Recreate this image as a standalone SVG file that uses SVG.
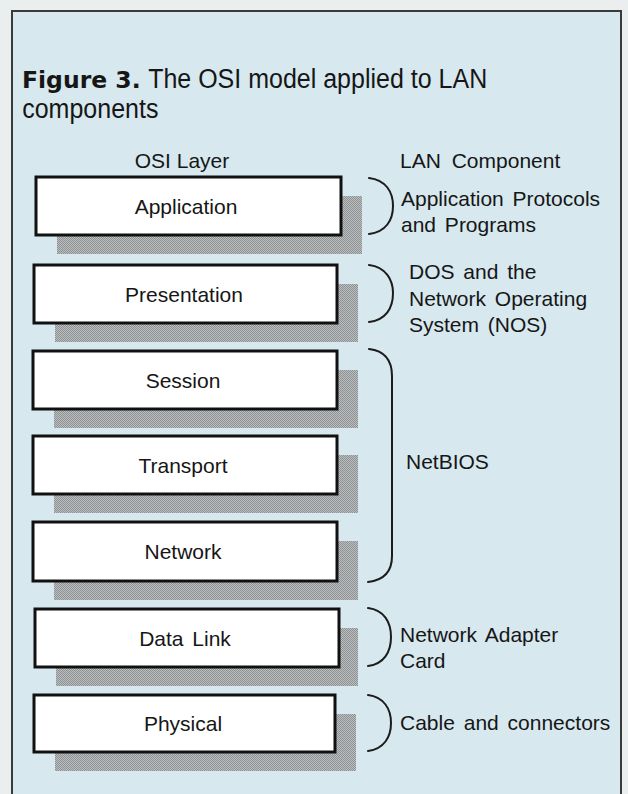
<svg xmlns="http://www.w3.org/2000/svg" width="628" height="794" viewBox="0 0 628 794">
<style>
.t{font-family:"Liberation Sans",Arial,sans-serif;fill:#161616}
.lbl{font-size:21px;text-anchor:middle}
.rt{font-size:21px;word-spacing:3px}
.hd{font-size:21px}
.ttl{font-size:27px}
.box{fill:#ffffff;stroke:#111;stroke-width:3}
.sh{fill:url(#dots)}
.br{fill:none;stroke:#1c1c1c;stroke-width:2;stroke-linecap:round}
</style>
<defs>
<pattern id="dots" width="2" height="2" patternUnits="userSpaceOnUse">
<rect width="2" height="2" fill="#bcbfc0"/>
<rect width="1" height="1" fill="#8d9193"/>
<rect x="1" y="1" width="1" height="1" fill="#8d9193"/>
</pattern>
</defs>
<rect width="628" height="794" fill="#eaeeef"/>
<rect x="12" y="11" width="609" height="800" fill="#d7e8ef" stroke="#3a3a3a" stroke-width="2"/>

<g id="title">
<text x="22" y="88" style="font-family:'DejaVu Sans',sans-serif;font-weight:bold;font-size:23.5px;fill:#161616">Figure 3.</text>
<g transform="scale(0.926,1)">
<text class="t ttl" x="160" y="88">The OSI model applied to LAN</text>
<text class="t ttl" x="24" y="118">components</text>
</g>
</g>
<g id="headers">
<text class="t hd" x="182" y="168" text-anchor="middle">OSI Layer</text>
<text class="t hd" x="400" y="168" style="word-spacing:5px">LAN Component</text>
</g>

<g id="application">
<rect class="sh" x="57" y="196" width="305" height="58"/>
<rect class="box" x="36" y="177" width="305" height="58"/>
<text class="t lbl" x="186" y="214">Application</text>
</g>
<g id="presentation">
<rect class="sh" x="55" y="284" width="303" height="58"/>
<rect class="box" x="34" y="265" width="303" height="58"/>
<text class="t lbl" x="184" y="302">Presentation</text>
</g>
<g id="session">
<rect class="sh" x="54" y="370" width="304" height="58"/>
<rect class="box" x="33" y="351" width="304" height="58"/>
<text class="t lbl" x="183" y="388">Session</text>
</g>
<g id="transport">
<rect class="sh" x="54" y="455" width="304" height="58"/>
<rect class="box" x="33" y="436" width="304" height="58"/>
<text class="t lbl" x="183" y="473">Transport</text>
</g>
<g id="network">
<rect class="sh" x="54" y="541" width="304" height="59"/>
<rect class="box" x="33" y="522" width="304" height="59"/>
<text class="t lbl" x="183" y="559">Network</text>
</g>
<g id="datalink">
<rect class="sh" x="56" y="628" width="302" height="58"/>
<rect class="box" x="35" y="609" width="304" height="58"/>
<text class="t lbl" x="185" y="646" style="word-spacing:3px">Data Link</text>
</g>
<g id="physical">
<rect class="sh" x="55" y="714" width="301" height="57"/>
<rect class="box" x="34" y="695" width="301" height="57"/>
<text class="t lbl" x="183" y="731">Physical</text>
</g>

<g id="comp-app">
<text class="t rt" x="401" y="206">Application Protocols</text>
<text class="t rt" x="401" y="232">and Programs</text>
</g>
<g id="comp-nos">
<text class="t rt" x="409" y="279">DOS and the</text>
<text class="t rt" x="409" y="306">Network Operating</text>
<text class="t rt" x="409" y="332">System (NOS)</text>
</g>
<g id="comp-netbios">
<text class="t rt" x="406" y="469">NetBIOS</text>
</g>
<g id="comp-nic">
<text class="t rt" x="400" y="642">Network Adapter</text>
<text class="t rt" x="400" y="668">Card</text>
</g>
<g id="comp-cable">
<text class="t rt" x="400" y="730">Cable and connectors</text>
</g>

<g id="connectors">
<path class="br" d="M369,178 C386,180 393,192 393,206 C393,220 386,232 369,234"/>
<path class="br" d="M369,265 C386,267 393,280 393,293 C393,308 386,320 369,322"/>
<path class="br" d="M369,349 C386,351 392,362 392,376 L392,556 C392,570 386,580 368,582"/>
<path class="br" d="M368,608 C384,610 391,622 391,637 C391,652 384,664 368,666"/>
<path class="br" d="M368,695 C384,697 391,709 391,723 C391,737 384,749 368,751"/>
</g>
</svg>
